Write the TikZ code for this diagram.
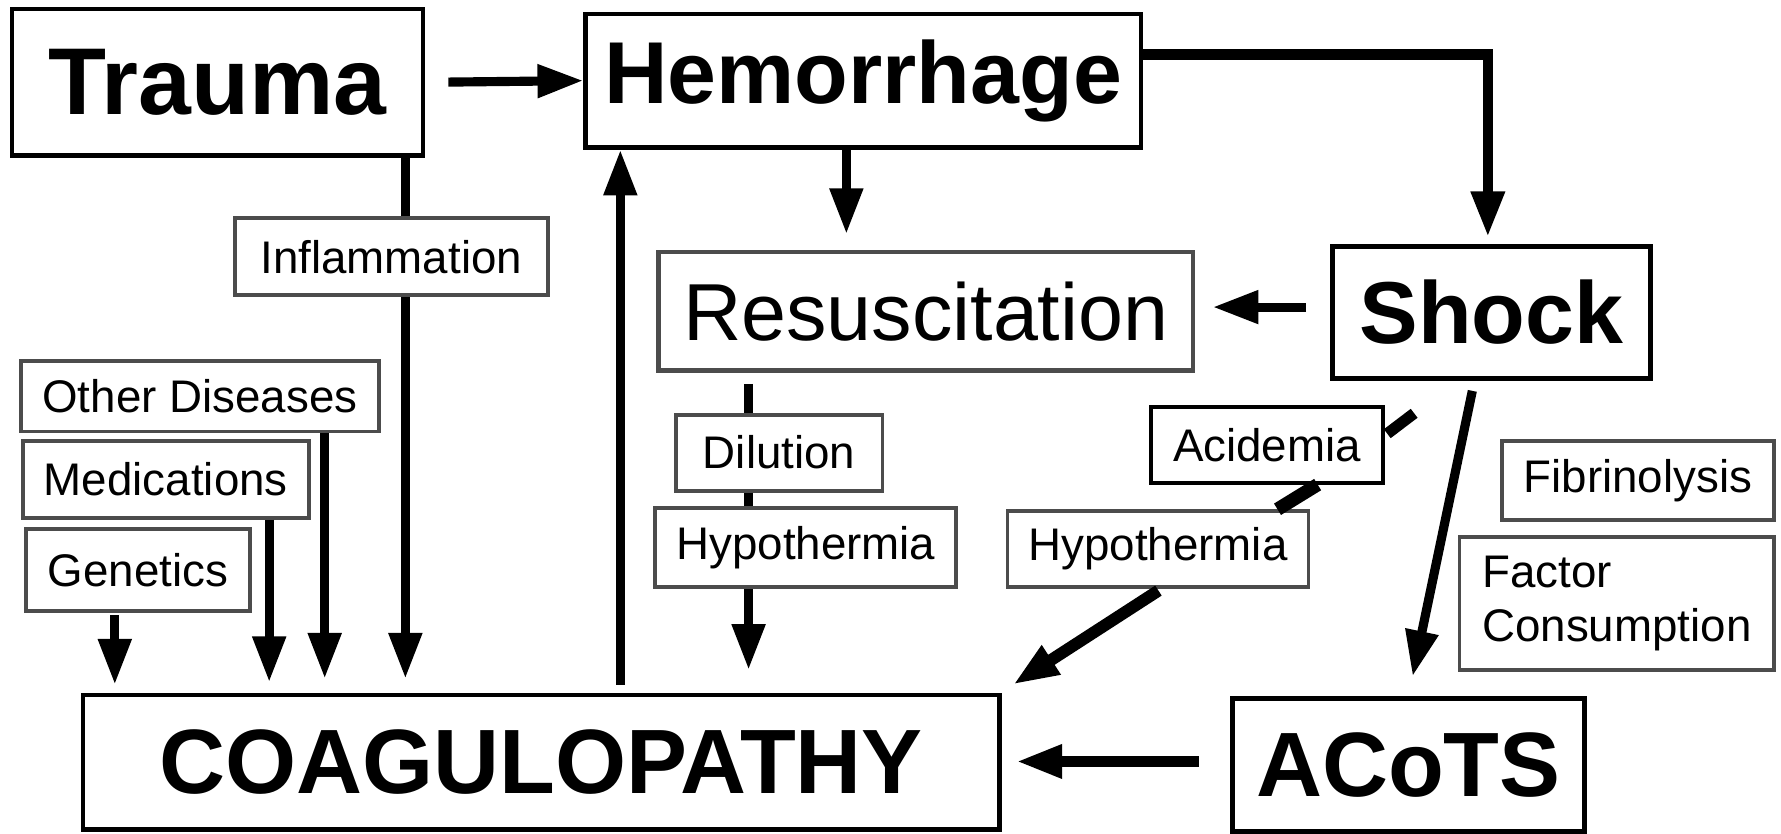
\documentclass[tikz,border=0pt]{standalone}
\usepackage{fontspec}
\setmainfont{Liberation Sans}
\usetikzlibrary{arrows.meta,positioning}

\begin{document}
\begin{tikzpicture}[x=0.3231pt,y=-0.3231pt,
  box/.style={draw,line width=1.3pt,inner sep=0pt,font=\fontsize{26}{28}\selectfont\bfseries},
  tag/.style={draw=black!70,line width=1.1pt,inner sep=0pt,font=\fontsize{13}{15.5}\selectfont},
  link/.style={line width=2.6pt},
  arr/.style={link,-{Triangle[length=13pt,width=9pt]}},
  >=Latex]
\path[fill=white] (0,0) rectangle (1568,734);
\useasboundingbox (0,0) rectangle (1568,734);
% main boxes
\node[box,minimum width=117pt,minimum height=41.7pt,font=\fontsize{27}{30}\selectfont\bfseries] (trauma) at (191.5,72.5) {Trauma};
\node[box,minimum width=158pt,minimum height=38pt,font=\fontsize{25}{28}\selectfont\bfseries] (hem) at (760,71) {Hemorrhage};
\node[box,draw=black!70,minimum width=152pt,minimum height=33.6pt,font=\fontsize{23}{26}\selectfont] (resusc) at (815,274) {Resuscitation};
\node[box,minimum width=90.5pt,minimum height=37.5pt,font=\fontsize{25}{28}\selectfont\bfseries] (shock) at (1313,275) {Shock};
\node[box,minimum width=260.7pt,minimum height=38.2pt] (coag) at (476.5,671) {COAGULOPATHY};
\node[box,minimum width=100pt,minimum height=37.8pt] (acots) at (1240,673.5) {ACoTS};
% small boxes
\node[tag,minimum width=89pt,minimum height=22pt] (infl) at (344.5,226) {Inflammation};
\node[tag,minimum width=102pt,minimum height=20pt] (other) at (176,349) {Other Diseases};
\node[tag,minimum width=81.4pt,minimum height=22pt] (meds) at (146,422) {Medications};
\node[tag,minimum width=63.6pt,minimum height=23.3pt] (gen) at (121.5,502) {Genetics};
\node[tag,minimum width=58.8pt,minimum height=21.6pt] (dil) at (686,398.5) {Dilution};
\node[tag,minimum width=85.6pt,minimum height=22.6pt] (hypoa) at (709.5,482) {Hypothermia};
\node[tag,draw=black,minimum width=66.2pt,minimum height=21.6pt] (acid) at (1115.5,391.5) {Acidemia};
\node[tag,minimum width=85.6pt,minimum height=21.6pt] (hypob) at (1019.5,483.5) {Hypothermia};
\node[tag,minimum width=77.5pt,minimum height=22.6pt] (fib) at (1442,423) {Fibrinolysis};
\node[tag,align=left,minimum width=89.5pt,minimum height=37.8pt] (factor) at (1423.5,531.5) {Factor\\Consumption};
% top row
\draw[arr,shorten <=6.5pt] (trauma.east) -- (hem.west);
\draw[arr,line width=3pt,shorten >=2pt] ([yshift=7.4pt]hem.east) -| ([xshift=-1pt]shock.north);
\draw[arr,shorten >=4.5pt] ([xshift=-4.8pt]hem.south) -- ([xshift=-4.8pt]hem.south |- resusc.north);
\draw[arr,shorten <=6.8pt,shorten >=5pt] ([yshift=1.5pt]shock.west) -- ([yshift=1.5pt]shock.west -| resusc.east);
% left inputs
\draw[link] ([xshift=4pt]infl.north) -- ([xshift=4pt]infl.north |- trauma.south);
\draw[arr,shorten >=4pt] ([xshift=4pt]infl.south) -- ([xshift=4pt]infl.south |- coag.north);
\draw[arr,shorten >=4pt] ([xshift=35.5pt]other.south) -- ([xshift=35.5pt]other.south |- coag.north);
\draw[arr,shorten >=3pt] ([xshift=29.4pt]meds.south) -- ([xshift=29.4pt]meds.south |- coag.north);
\draw[arr,shorten <=0.6pt,shorten >=2.3pt] ([xshift=-6.6pt]gen.south) -- ([xshift=-6.6pt]gen.south |- coag.north);
\draw[arr,shorten <=2.3pt] ([xshift=22.5pt]coag.north) -- ([xshift=22.5pt]coag.north |- hem.south);
% resuscitation chain
\draw[link,shorten <=3.2pt] ([xshift=-8.7pt]dil.north |- resusc.south) -- ([xshift=-8.7pt]dil.north);
\draw[link] ([xshift=-8.7pt]dil.south) -- ([xshift=-8.7pt]dil.south |- hypoa.north);
\draw[arr,shorten >=6.5pt] ([xshift=-16.3pt]hypoa.south) -- ([xshift=-16.3pt]hypoa.south |- coag.north);
% shock chain
\draw[link,line width=3.2pt,shorten <=15.4pt,shorten >=0.7pt] ([xshift=-9.7pt]shock.south) -- ([yshift=2.7pt]acid.east);
\draw[link,line width=3.8pt] ([xshift=14.4pt]acid.south) -- ([xshift=34pt]hypob.north);
\draw[arr,line width=3.4pt,shorten <=0.8pt] ([xshift=0.8pt]hypob.south) -- ([xshift=3.2pt,yshift=2.3pt]coag.north east);
\draw[arr,shorten <=3pt,shorten >=5.8pt] ([xshift=-4.8pt]shock.south) -- (acots.north);
\draw[arr,line width=3pt,shorten <=9pt,shorten >=4.2pt] ([yshift=1pt]acots.west) -- ([yshift=1pt]acots.west -| coag.east);
\end{tikzpicture}
\end{document}
